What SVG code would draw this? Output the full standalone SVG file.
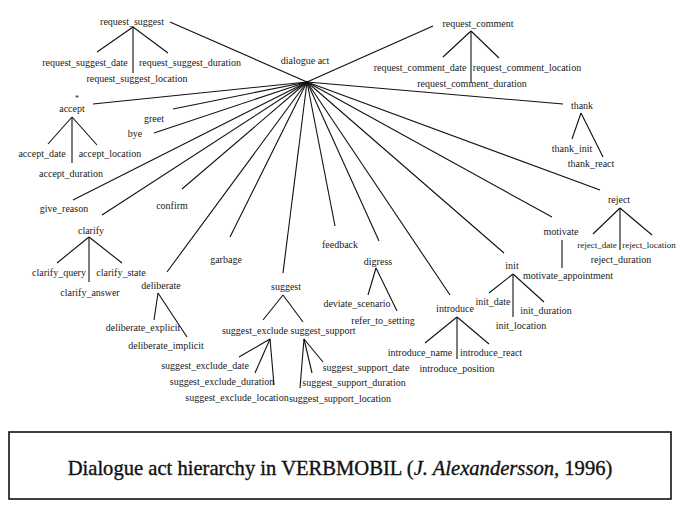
<svg xmlns="http://www.w3.org/2000/svg" width="680" height="507" viewBox="0 0 680 507">
<style>
text{font-family:"Liberation Serif","Times New Roman",serif;font-size:10px;fill:#1a1a1a;text-anchor:middle}
.c line{stroke:#111;stroke-width:1.1;fill:none}
.cap{font-size:20.6px;fill:#111;stroke:#111;stroke-width:0.35}
</style>
<rect width="680" height="507" fill="#fff"/>
<g class="c" id="connectors">
<line x1="307" y1="82" x2="170" y2="22"/>
<line x1="307" y1="82" x2="433" y2="26"/>
<line x1="307" y1="82" x2="93" y2="104"/>
<line x1="307" y1="82" x2="173" y2="109"/>
<line x1="307" y1="82" x2="154" y2="133"/>
<line x1="307" y1="82" x2="563" y2="104"/>
<line x1="307" y1="82" x2="73" y2="200"/>
<line x1="307" y1="82" x2="182" y2="189"/>
<line x1="307" y1="82" x2="102" y2="215"/>
<line x1="307" y1="82" x2="167" y2="272"/>
<line x1="307" y1="82" x2="230" y2="237"/>
<line x1="307" y1="82" x2="283" y2="273"/>
<line x1="307" y1="82" x2="335" y2="226"/>
<line x1="307" y1="82" x2="379" y2="241"/>
<line x1="307" y1="82" x2="450" y2="295"/>
<line x1="307" y1="82" x2="504" y2="253"/>
<line x1="307" y1="82" x2="552" y2="217"/>
<line x1="307" y1="82" x2="600" y2="190"/>
<line x1="133" y1="27" x2="97" y2="52"/>
<line x1="133" y1="27" x2="133" y2="73"/>
<line x1="133" y1="27" x2="168" y2="53"/>
<line x1="471" y1="31" x2="443" y2="57"/>
<line x1="471" y1="31" x2="471" y2="82"/>
<line x1="471" y1="31" x2="499" y2="58"/>
<line x1="72" y1="117" x2="48" y2="144"/>
<line x1="72" y1="117" x2="72" y2="163"/>
<line x1="72" y1="117" x2="97" y2="145"/>
<line x1="581" y1="113" x2="572" y2="139"/>
<line x1="581" y1="113" x2="603" y2="157"/>
<line x1="89" y1="237" x2="57" y2="263"/>
<line x1="89" y1="237" x2="89" y2="282"/>
<line x1="89" y1="237" x2="122" y2="263"/>
<line x1="158" y1="293" x2="154" y2="320"/>
<line x1="158" y1="293" x2="187" y2="337"/>
<line x1="283" y1="295" x2="263" y2="320"/>
<line x1="283" y1="295" x2="303" y2="322"/>
<line x1="270" y1="339" x2="239" y2="357"/>
<line x1="270" y1="339" x2="255" y2="373"/>
<line x1="270" y1="339" x2="274" y2="385"/>
<line x1="304" y1="339" x2="300" y2="388"/>
<line x1="304" y1="339" x2="312" y2="373"/>
<line x1="304" y1="339" x2="323" y2="362"/>
<line x1="376" y1="268" x2="368" y2="295"/>
<line x1="376" y1="268" x2="397" y2="311"/>
<line x1="457" y1="317" x2="425" y2="343"/>
<line x1="457" y1="317" x2="457" y2="359"/>
<line x1="457" y1="317" x2="489" y2="344"/>
<line x1="513" y1="274" x2="489" y2="293"/>
<line x1="513" y1="274" x2="513" y2="317"/>
<line x1="513" y1="274" x2="544" y2="302"/>
<line x1="562" y1="240" x2="562" y2="268"/>
<line x1="620" y1="208" x2="593" y2="234"/>
<line x1="620" y1="208" x2="620" y2="250"/>
<line x1="620" y1="208" x2="652" y2="235"/>
</g>
<g id="dialogue_act"><text x="305" y="64">dialogue act</text></g>
<g id="request_suggest"><text x="132" y="25">request_suggest</text></g>
<g id="request_suggest_date"><text x="85" y="66">request_suggest_date</text></g>
<g id="request_suggest_duration"><text x="190" y="66">request_suggest_duration</text></g>
<g id="request_suggest_location"><text x="137" y="82">request_suggest_location</text></g>
<g id="request_comment"><text x="478" y="27">request_comment</text></g>
<g id="request_comment_date"><text x="420" y="71">request_comment_date</text></g>
<g id="request_comment_location"><text x="527" y="71">request_comment_location</text></g>
<g id="request_comment_duration"><text x="472" y="87">request_comment_duration</text></g>
<g id="accept"><text x="77" y="100.5" style="font-size:8px">*</text><text x="72" y="111.5">accept</text></g>
<g id="accept_date"><text x="42" y="157">accept_date</text></g>
<g id="accept_location"><text x="110" y="157">accept_location</text></g>
<g id="accept_duration"><text x="71" y="177">accept_duration</text></g>
<g id="greet"><text x="154" y="122">greet</text></g>
<g id="bye"><text x="135" y="137">bye</text></g>
<g id="thank"><text x="582" y="109">thank</text></g>
<g id="thank_init"><text x="572" y="152">thank_init</text></g>
<g id="thank_react"><text x="591" y="167">thank_react</text></g>
<g id="give_reason"><text x="64" y="212">give_reason</text></g>
<g id="confirm"><text x="172" y="209">confirm</text></g>
<g id="clarify"><text x="91" y="234">clarify</text></g>
<g id="clarify_query"><text x="59" y="276">clarify_query</text></g>
<g id="clarify_state"><text x="121" y="276">clarify_state</text></g>
<g id="clarify_answer"><text x="90" y="296">clarify_answer</text></g>
<g id="garbage"><text x="226" y="263">garbage</text></g>
<g id="deliberate"><text x="161" y="289">deliberate</text></g>
<g id="deliberate_explicit"><text x="143" y="331">deliberate_explicit</text></g>
<g id="deliberate_implicit"><text x="166" y="349">deliberate_implicit</text></g>
<g id="suggest"><text x="286" y="290">suggest</text></g>
<g id="suggest_exclude"><text x="255" y="334">suggest_exclude</text></g>
<g id="suggest_support"><text x="323" y="334">suggest_support</text></g>
<g id="suggest_exclude_date"><text x="205" y="369">suggest_exclude_date</text></g>
<g id="suggest_exclude_duration"><text x="222" y="385">suggest_exclude_duration</text></g>
<g id="suggest_exclude_location"><text x="237" y="401">suggest_exclude_location</text></g>
<g id="suggest_support_date"><text x="366" y="371">suggest_support_date</text></g>
<g id="suggest_support_duration"><text x="354" y="386">suggest_support_duration</text></g>
<g id="suggest_support_location"><text x="340" y="402">suggest_support_location</text></g>
<g id="feedback"><text x="340" y="248">feedback</text></g>
<g id="digress"><text x="378" y="265">digress</text></g>
<g id="deviate_scenario"><text x="357" y="307">deviate_scenario</text></g>
<g id="refer_to_setting"><text x="383" y="324">refer_to_setting</text></g>
<g id="introduce"><text x="455" y="312">introduce</text></g>
<g id="introduce_name"><text x="420" y="356">introduce_name</text></g>
<g id="introduce_react"><text x="491" y="356">introduce_react</text></g>
<g id="introduce_position"><text x="457" y="372">introduce_position</text></g>
<g id="init"><text x="512" y="269">init</text></g>
<g id="init_date"><text x="493" y="305">init_date</text></g>
<g id="init_duration"><text x="546" y="314">init_duration</text></g>
<g id="init_location"><text x="521" y="329">init_location</text></g>
<g id="motivate"><text x="561" y="235">motivate</text></g>
<g id="motivate_appointment"><text x="568" y="279">motivate_appointment</text></g>
<g id="reject"><text x="619" y="203">reject</text></g>
<g id="reject_date"><text x="597" y="248" style="font-size:9px">reject_date</text></g>
<g id="reject_location"><text x="649" y="248" style="font-size:9px">reject_location</text></g>
<g id="reject_duration"><text x="621" y="263">reject_duration</text></g>
<g id="caption">
<rect x="9" y="432" width="662" height="67" fill="none" stroke="#111" stroke-width="1.6"/>
<text class="cap" x="340" y="475">Dialogue act hierarchy in VERBMOBIL (<tspan font-style="italic">J. Alexandersson</tspan>, 1996)</text>
</g>
</svg>
